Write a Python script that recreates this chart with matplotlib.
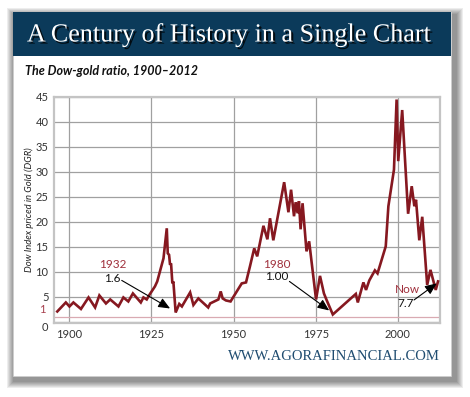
import matplotlib
matplotlib.use("Agg")
import matplotlib.pyplot as plt
import matplotlib.patheffects as pe
from matplotlib.patches import Rectangle

years = [1896.4, 1899.0, 1900.1, 1901.3, 1903.6, 1905.9, 1907.9, 1909.2, 1911.2, 1912.5,
         1915.0, 1916.5, 1918.0, 1919.4, 1921.8, 1922.6, 1923.6, 1924.4, 1926.1, 1926.8,
         1928.7, 1929.7, 1930.0, 1930.4, 1930.7, 1931.0, 1931.4, 1931.7, 1932.4, 1933.5,
         1934.3, 1936.8, 1937.8, 1939.3, 1942.3, 1942.9, 1945.4, 1946.1, 1946.7, 1947.7,
         1949.1, 1952.5, 1953.8, 1955.0, 1956.3, 1957.2, 1959.1, 1960.3, 1961.1, 1962.1,
         1965.4, 1966.7, 1967.5, 1968.4, 1968.9, 1969.5, 1969.9, 1970.4, 1971.0, 1972.2,
         1973.0, 1975.1, 1976.3, 1977.5, 1978.3, 1980.2, 1987.2, 1987.8, 1989.5, 1990.3,
         1991.3, 1993.0, 1993.8, 1996.3, 1997.1, 1998.8, 1999.6, 2000.1, 2001.3, 2003.1,
         2004.2, 2005.0, 2005.5, 2006.5, 2007.4, 2008.9, 2009.9, 2011.5, 2012.2]
dgr = [2.1, 3.9, 3.1, 3.9, 2.6, 4.9, 2.9, 5.3, 3.7, 4.5,
       3.1, 4.9, 4.1, 5.7, 3.9, 4.9, 4.5, 5.4, 7.1, 8.1,
       12.7, 18.7, 13.7, 13.4, 11.4, 11.7, 7.7, 8.1, 1.9, 3.6,
       3.1, 5.9, 3.4, 4.7, 2.9, 3.7, 4.5, 6.1, 4.7, 4.3,
       4.1, 7.7, 7.9, 11.1, 14.7, 13.1, 19.2, 16.5, 20.7, 16.3,
       27.9, 21.9, 26.4, 21.1, 23.9, 21.7, 24.1, 18.5, 23.7, 14.1,
       16.1, 4.5, 9.2, 5.7, 4.4, 1.5, 5.6, 3.9, 7.9, 6.4,
       8.3, 10.3, 9.7, 15.1, 23.1, 30.4, 44.4, 32.1, 42.3, 21.6,
       27.1, 23.1, 24.4, 16.3, 21.0, 7.4, 10.4, 6.4, 8.1]

x_ticks = [1900, 1925, 1950, 1975, 2000]
y_ticks = [0, 5, 10, 15, 20, 25, 30, 35, 40, 45]

title = "A Century of History in a Single Chart"
subtitle = "The Dow-gold ratio, 1900\u20132012"
ylabel = "Dow Index priced in Gold (DGR)"
footer = "WWW.AGORAFINANCIAL.COM"

# annotations: (label, value, label pos, value pos, arrow start, arrow end)
annotations = [
    ("1932", "1.6", (1913.3, 11.4), (1913.0, 8.7), (1916.0, 8.3), (1930.7, 2.7)),
    ("1980", "1.00", (1963.3, 11.4), (1963.1, 9.1), (1967.0, 8.1), (1979.1, 2.3)),
    ("Now", "7.7", (2002.9, 6.5), (2002.3, 3.7), (2004.9, 4.4), (2011.8, 7.7)),
]

W, H = 470, 397
fig = plt.figure(figsize=(W / 100, H / 100), dpi=100)
fig.patch.set_facecolor("white")

def rect(x0, y0, x1, y1, **kw):
    r = Rectangle((x0 / W, 1 - y1 / H), (x1 - x0) / W, (y1 - y0) / H,
                  transform=fig.transFigure, **kw)
    fig.patches.append(r)

# soft drop shadow (offset right/down)
for i in range(7):
    g = 7 - i
    rect(13 + 1 - g, 12 + 3 - g, 451 + 5 + g, 376 + 5 + g,
         facecolor="black", edgecolor="none", alpha=0.07, zorder=0)
# panel
rect(13, 12, 451, 376, facecolor="white", edgecolor="#cfcfcf", lw=0.5, zorder=1)
rect(13, 12, 451, 56, facecolor="#0b3a5a", edgecolor="none", zorder=2)

fig.text(229 / W, 1 - 35 / H, title, color="white", fontsize=18.8,
         family="Liberation Serif", ha="center", va="center", zorder=3,
         path_effects=[pe.SimplePatchShadow(offset=(1.5, -1.5), shadow_rgbFace="black", alpha=0.8),
                       pe.Normal()])
fig.text(25 / W, 1 - 71 / H, subtitle, color="#111111", fontsize=9,
         family="Lato", weight="bold", style="italic", ha="left", va="center", zorder=3)
fig.text(440 / W, 1 - 357 / H, footer, color="#1f4c70", fontsize=10.5,
         family="Liberation Serif", ha="right", va="center", zorder=3)

ax = fig.add_axes([54 / W, 1 - 323 / H, (440 - 54) / W, (323 - 96.5) / H], zorder=4)
ax.set_facecolor("white")
ax.set_xlim(1895.4, 2012.8)
ax.set_ylim(-0.2, 45)
ax.set_xticks(x_ticks)
ax.set_yticks(y_ticks)
ax.grid(True, color="#a0a0a0", lw=0.9)
ax.set_axisbelow(True)
for s in ax.spines.values():
    s.set_color("#c4c4c4")
    s.set_linewidth(1.6)
ax.tick_params(length=0, pad=4, labelsize=8, labelcolor="#333333")
for lab in ax.get_xticklabels() + ax.get_yticklabels():
    lab.set_family("Lato")
# nudge the "0" label down slightly so it doesn't collide with the red "1"
ylabels = ax.get_yticklabels()
ylabels[0].set_va("top")
ylabels[0].set_y(0.6)

ax.axhline(1, color="#d9aab2", lw=0.9, zorder=1)
ax.text(-0.022, 1.4, "1", transform=ax.get_yaxis_transform(), ha="right", va="bottom",
        color="#a8404e", fontsize=8, family="Lato")

ax.plot(years, dgr, color="#861820", lw=1.9, zorder=3, solid_joinstyle="miter")

ax.set_ylabel(ylabel, fontsize=6.8, style="italic", family="Lato", color="#222222",
              labelpad=1)

for lab, val, lp, vp, a0, a1 in annotations:
    ax.text(lp[0], lp[1], lab, color="#a0303c", fontsize=8.5, family="Lato",
            ha="center", va="center", zorder=5)
    ax.text(vp[0], vp[1], val, color="#111111", fontsize=8.5, family="Lato",
            ha="center", va="center", zorder=5)
    ax.annotate("", xy=a1, xytext=a0,
                arrowprops=dict(arrowstyle="-|>,head_length=0.7,head_width=0.3",
                                color="black", lw=0.8, shrinkA=0, shrinkB=0), zorder=5)

fig.savefig("out.png", dpi=100)
